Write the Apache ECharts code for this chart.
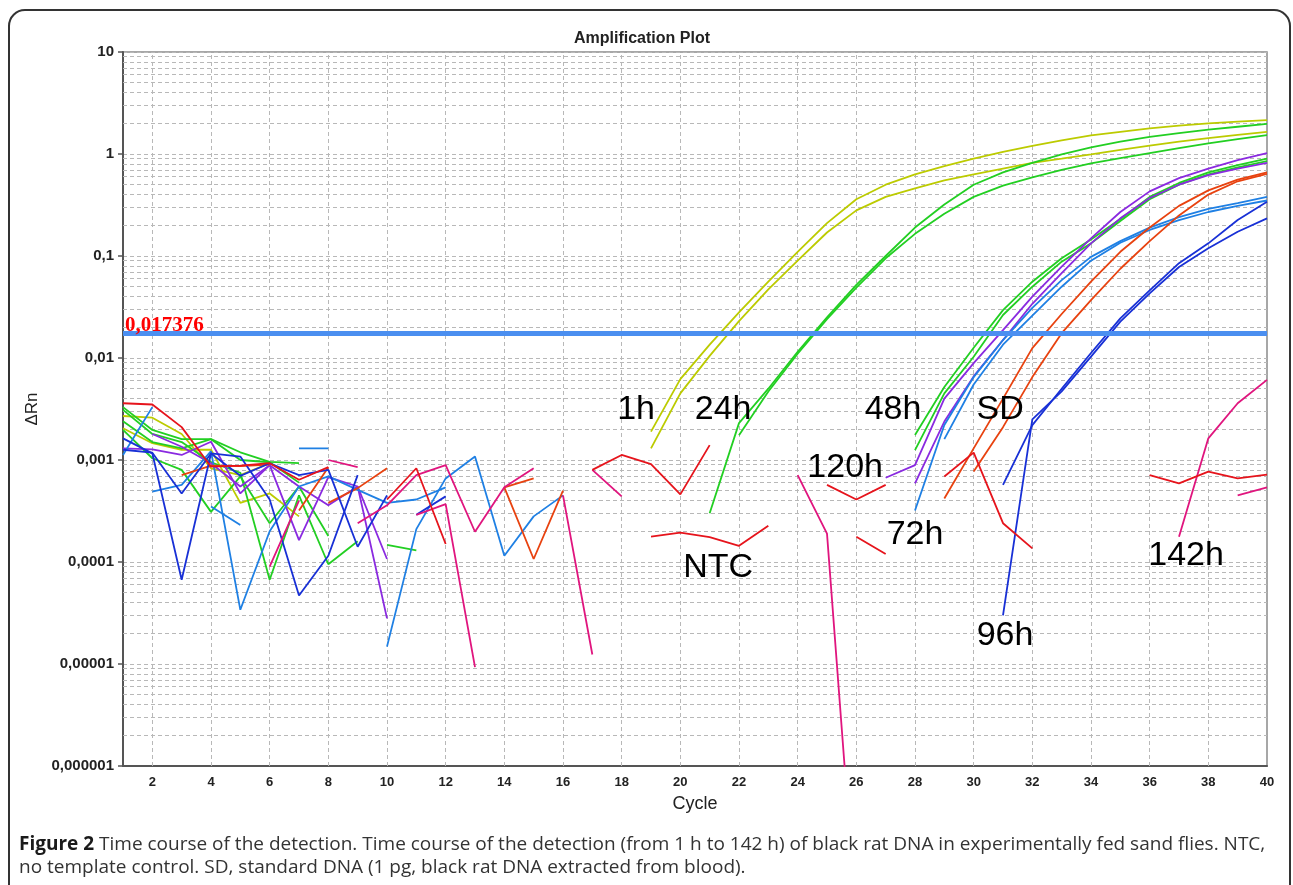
<!DOCTYPE html>
<html><head><meta charset="utf-8">
<script src="https://cdn.jsdelivr.net/npm/echarts/dist/echarts.min.js"></script>
<style>html,body{margin:0;padding:0;background:#fff;}#chart{width:1293px;height:885px;}</style>
</head><body><div id="chart"></div>
<script>
const _ = null;
const cycles = [1,2,3,4,5,6,7,8,9,10,11,12,13,14,15,16,17,18,19,20,21,22,23,24,25,26,27,28,29,30,31,32,33,34,35,36,37,38,39,40];
const xTickLabels = [2,4,6,8,10,12,14,16,18,20,22,24,26,28,30,32,34,36,38,40];
const yTickLabels = ['0,000001','0,00001','0,0001','0,001','0,01','0,1','1','10'];
const threshold = 0.017376;
const thresholdText = '0,017376';

// values per cycle 1..40 (null = not plotted)
const h1a = [0.0027,0.0026,0.0018,0.00083,0.00071,0.00093,_,_,_,_,_,_,_,_,_,_,_,_,0.0019,0.0062,0.0135,0.028,0.056,0.11,0.21,0.36,0.50,0.63,0.76,0.90,1.05,1.20,1.36,1.52,1.65,1.78,1.90,2.00,2.08,2.15];
const h1b = [0.00205,0.00146,0.00126,0.00126,0.00038,0.00047,0.00028,_,_,_,_,_,_,_,_,_,_,_,0.0013,0.0045,0.0105,0.023,0.047,0.090,0.17,0.28,0.38,0.46,0.55,0.63,0.72,0.82,0.90,0.99,1.10,1.21,1.32,1.43,1.54,1.65];
const h24a = [0.0033,0.00197,0.0016,0.0016,0.00119,0.00096,0.00093,_,_,_,_,_,_,_,_,_,_,_,_,_,0.0003,0.0023,0.0050,0.0115,0.025,0.052,0.10,0.19,0.32,0.50,0.66,0.82,0.99,1.16,1.32,1.47,1.60,1.73,1.85,1.97];
const h24b = [0.0031,0.0018,0.0015,0.00095,0.00075,0.000067,0.00045,0.000095,0.00016,_,_,_,_,_,_,_,_,_,_,_,_,0.00175,0.0047,0.011,0.024,0.049,0.095,0.165,0.26,0.38,0.49,0.59,0.70,0.81,0.91,1.02,1.14,1.27,1.40,1.53];
const h48a = [0.00197,0.00104,0.0008,0.00031,0.00069,0.00024,0.00055,0.00018,_,0.000147,0.00013,_,_,_,_,_,_,_,_,_,_,_,_,_,_,_,_,0.00176,0.0052,0.0126,0.0295,0.056,0.095,0.145,0.23,0.38,0.52,0.66,0.78,0.90];
const h48b = [0.0024,0.0015,0.0013,0.0016,0.0010,0.00095,0.0006,_,_,_,_,_,_,_,_,_,_,_,_,_,_,_,_,_,_,_,_,0.00125,0.0045,0.0103,0.0264,0.050,0.088,0.133,0.22,0.36,0.50,0.63,0.74,0.85];
const h120a = [0.0013,0.00127,0.00112,0.00151,0.00047,0.00089,0.000164,0.00068,0.00055,0.000028,_,_,_,_,_,_,_,_,_,_,_,_,_,_,_,_,0.00067,0.00089,0.0040,0.0089,0.0188,0.040,0.0785,0.149,0.27,0.43,0.58,0.72,0.87,1.02];
const h120b = [_,0.0018,0.00135,0.00093,0.00055,0.00089,0.00055,0.00036,0.00055,0.000107,_,_,_,_,_,_,_,_,_,_,_,_,_,_,_,_,_,0.00059,0.00238,0.0066,0.015,0.034,0.068,0.133,0.234,0.37,0.50,0.62,0.72,0.82];
const h72a = [0.00112,0.0033,_,0.00035,0.00023,_,0.0013,0.0013,_,0.0000148,0.00021,0.00066,0.00108,0.000115,0.00028,0.00045,_,_,_,_,_,_,_,_,_,_,_,0.00032,0.0022,0.0065,0.0150,0.031,0.058,0.098,0.14,0.19,0.24,0.29,0.33,0.38];
const h72b = [_,0.00049,0.00057,0.00122,0.000034,0.00020,0.00055,0.00069,0.00051,0.00038,0.00041,0.00054,_,_,_,_,_,_,_,_,_,_,_,_,_,_,_,_,0.0016,0.0055,0.0135,0.026,0.050,0.090,0.135,0.18,0.225,0.27,0.31,0.35];
const hSDa = [_,_,0.00071,0.00088,0.00087,0.00090,_,0.00038,0.00053,0.00083,_,_,_,0.00054,0.00066,_,_,_,_,_,_,_,_,_,_,_,_,_,0.00042,0.0013,0.0040,0.0125,0.027,0.056,0.11,0.19,0.31,0.44,0.56,0.66];
const hSDb = [_,_,_,_,_,_,0.00032,0.00085,_,_,_,_,_,0.00054,0.000107,0.0005,_,_,_,_,_,_,_,_,_,_,_,_,_,0.00077,0.0021,0.0065,0.0175,0.037,0.075,0.14,0.25,0.40,0.54,0.64];
const h96a = [0.00163,0.00116,0.000067,0.00116,0.00108,0.00041,0.000047,0.000115,0.00071,_,0.00029,0.00044,_,_,_,_,_,_,_,_,_,_,_,_,_,_,_,_,_,_,0.00057,0.0022,0.0050,0.0112,0.0245,0.046,0.085,0.133,0.225,0.34];
const h96b = [0.00126,0.00118,0.00047,0.00116,0.0007,0.00093,0.00071,0.0008,0.000141,0.00045,_,_,_,_,_,_,_,_,_,_,_,_,_,_,_,_,_,_,_,_,0.00003,0.0025,0.0047,0.0103,0.0227,0.043,0.078,0.119,0.173,0.234];
const h142a = [_,_,_,_,_,_,_,0.0010,0.00085,_,0.00029,0.00037,0.0000093,_,_,0.00045,0.0000124,_,_,_,_,_,_,0.00071,0.00019,0.00000003,_,_,_,_,_,_,_,_,_,_,0.000177,0.00163,0.0036,0.0061];
const h142b = [_,_,_,_,_,0.00009,0.0004,_,0.00024,0.00036,0.00071,0.00089,0.000198,0.00054,0.00083,_,0.0008,0.00044,_,_,_,_,_,_,_,_,_,_,_,_,_,_,_,_,_,_,_,_,0.00045,0.00054];
const ntcA = [0.0036,0.0035,0.0021,0.00086,0.00088,0.00093,0.00064,0.00085,_,0.00041,0.00083,0.00015,_,_,_,_,0.0008,0.00112,0.00091,0.00046,0.0014,_,_,_,0.00057,0.00041,0.00057,_,0.00069,0.00118,0.00024,0.000136,_,_,_,0.00071,0.00059,0.00077,0.00066,0.00072];
const ntcB = [_,_,_,_,_,_,_,_,_,_,_,_,_,_,_,_,_,_,0.000177,0.000194,0.000175,0.000144,0.000227,_,_,0.000177,0.00012,_,_,_,_,_,_,_,_,_,_,_,_,_];

const annText = ['1h','24h','48h','SD','120h','72h','NTC','96h','142h'];
const annCycle = [18.49,21.46,27.25,30.9,25.62,28.0,21.29,31.07,37.24];
const annValue = [0.0031,0.0031,0.0031,0.0031,0.000836,0.000184,0.0000873,0.0000188,0.000115];

const C = {yel:'#bccb00', grn:'#22cf22', pur:'#8a2ae0', lblu:'#1f80e4', dblu:'#1830d6', sd:'#e8420f', red:'#e6141c', mag:'#e0157e'};
const seriesDefs = [
  ['1h a',h1a,C.yel],['1h b',h1b,C.yel],['24h a',h24a,C.grn],['24h b',h24b,C.grn],
  ['48h a',h48a,C.grn],['48h b',h48b,C.grn],['120h a',h120a,C.pur],['120h b',h120b,C.pur],
  ['72h a',h72a,C.lblu],['72h b',h72b,C.lblu],['SD a',hSDa,C.sd],['SD b',hSDb,C.sd],
  ['96h a',h96a,C.dblu],['96h b',h96b,C.dblu],['142h a',h142a,C.mag],['142h b',h142b,C.mag],
  ['NTC a',ntcA,C.red],['NTC b',ntcB,C.red]
];

const minorVals = [];
for (let e = -6; e <= 0; e++) for (let m = 2; m <= 9; m++) minorVals.push(+(m * Math.pow(10, e)).toPrecision(3));
const vLines = xTickLabels.filter(v => v < 40);

const gridLineStyle = {color:'#b8b8b8', width:1, type:[4,3]};
const series = [{
  type:'line', data:[[1,'-']], silent:true, z:1,
  markLine:{silent:true, z:1, precision:12, symbol:['none','none'], animation:false, label:{show:false},
    lineStyle:gridLineStyle,
    data: minorVals.map(v=>({yAxis:v})).concat(vLines.map(v=>({xAxis:v})))}
}];
seriesDefs.forEach(([name, arr, color], i) => {
  const s = {
    name, type:'line', z:2, showSymbol:false, symbol:'none', connectNulls:false, animation:false,
    lineStyle:{color, width:1.8}, itemStyle:{color},
    data: cycles.map((c,k)=>[c, arr[k]==null?'-':arr[k]])
  };
  if (i === 0) {
    s.markLine = {silent:true, z:6, precision:12, symbol:['none','none'], animation:false,
      lineStyle:{color:'#4b8ff0', width:5, type:'solid'},
      label:{show:true, position:'insideStartTop', formatter:thresholdText, color:'#ff0000',
        fontFamily:'Liberation Serif', fontWeight:'bold', fontSize:21, distance:[2,-3]},
      data:[{yAxis:threshold}]};
  }
  series.push(s);
});
series.push({
  type:'scatter', z:7, symbolSize:0, silent:true, animation:false,
  itemStyle:{opacity:1},
  data: annText.map((t,i)=>({name:t, value:[annCycle[i], annValue[i]]})),
  label:{show:true, position:'inside', formatter:p=>p.name, color:'#000', textBorderWidth:0, opacity:1,
    fontFamily:'Liberation Sans', fontSize:34}
});

const chart = echarts.init(document.getElementById('chart'), null, {renderer:'canvas'});
chart.setOption({
  animation:false,
  backgroundColor:'#fff',
  grid:{left:123, right:26, top:52, bottom:119, show:true, borderColor:'#8a8a8a', borderWidth:1.5, containLabel:false},
  title:{text:'Amplification Plot', left:569, top:26,
    textStyle:{fontFamily:'Liberation Sans', fontSize:16, fontWeight:'bold', color:'#222'}},
  xAxis:{type:'value', min:1, max:40,
    name:'Cycle', nameLocation:'middle', nameGap:29,
    nameTextStyle:{fontFamily:'Liberation Sans', fontSize:18, color:'#222'},
    axisLine:{show:true, lineStyle:{color:'#555', width:2}},
    axisTick:{show:false},
    axisLabel:{customValues:xTickLabels, margin:10, fontFamily:'Liberation Sans', fontWeight:'bold', fontSize:13, color:'#222', formatter:v=>String(v)},
    splitLine:{show:false}},
  yAxis:{type:'log', logBase:10, min:0.000001, max:10,
    name:'ΔRn', nameLocation:'middle', nameGap:76, nameRotate:90,
    nameTextStyle:{fontFamily:'Liberation Sans', fontSize:17, color:'#222'},
    axisLine:{show:true, lineStyle:{color:'#555', width:2}},
    axisTick:{show:true, length:5, lineStyle:{color:'#555', width:1.5}},
    axisLabel:{margin:9, fontFamily:'Liberation Sans', fontWeight:'bold', fontSize:15, color:'#222',
      formatter:v=>yTickLabels[Math.round(Math.log10(v))+6]},
    splitLine:{show:true, lineStyle:gridLineStyle}},
  graphic:[
    {type:'rect', z:100, shape:{x:9, y:10, width:1281, height:900, r:16}, style:{fill:null, stroke:'#333', lineWidth:2}, silent:true},
    {type:'text', left:19, top:835, z:100, style:{
      text:'{b|Figure 2} Time course of the detection. Time course of the detection (from 1 h to 142 h) of black rat DNA in experimentally fed sand flies. NTC,',
      fontFamily:'Open Sans', fontSize:19, fill:'#333',
      rich:{b:{fontFamily:'Open Sans', fontSize:19, fontWeight:'bold', fill:'#1a1a1a'}}}},
    {type:'text', left:19, top:858, z:100, style:{
      text:'no template control. SD, standard DNA (1 pg, black rat DNA extracted from blood).',
      fontFamily:'Open Sans', fontSize:19, fill:'#333'}}
  ],
  series
});
</script></body></html>
